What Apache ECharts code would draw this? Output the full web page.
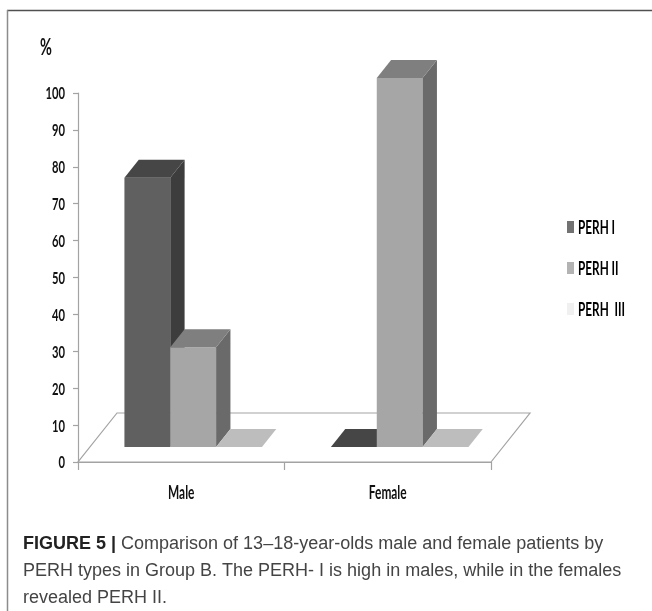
<!DOCTYPE html>
<html>
<head>
<meta charset="utf-8">
<script src="https://cdn.jsdelivr.net/npm/echarts@6/dist/echarts.min.js"></script>
<style>
  html, body { margin: 0; padding: 0; background: #fff; }
  #chart { width: 652px; height: 611px; }
</style>
</head>
<body>
<div id="chart"></div>
<script>
// Group B, ages 13–18: share of each PERH type (%) by sex
const categories = ['Male', 'Female'];
const perhI = [73, 0];
const perhII = [27, 100];
const perhIII = [0, 0];
const seriesNames = ['PERH I', 'PERH II', 'PERH  III'];
const yTickLabels = ['0', '10', '20', '30', '40', '50', '60', '70', '80', '90', '100'];

const captionLines = [
  '{b|FIGURE 5 |} Comparison of 13\u201318-year-olds male and female patients by',
  'PERH types in Group B. The PERH- I is high in males, while in the females',
  'revealed PERH II.'
];

// face colours: front, side, top, legend key
const palettes = [
  { front: '#606060', side: '#3d3d3d', top: '#464646', key: '#727272' },
  { front: '#a6a6a6', side: '#6a6a6a', top: '#7f7f7f', key: '#b3b3b3' },
  { front: '#f2f2f2', side: '#d0d0d0', top: '#bdbdbd', key: '#f0f0f0' }
];

// floor perspective
const FLOOR_DY = 49;           // floor depth, vertical
const SLANT = 39 / 49;         // horizontal shift per vertical unit of depth
const BAR_INSET = 15;          // bar front sits this far behind the floor front edge
const BAR_DY = 18;             // bar depth, vertical
const BAR_FRAC = 0.222;        // bar width as a share of the category band

const LABEL_FONT = 'Lato, "Open Sans", sans-serif';
const SQUEEZE = 0.66;          // narrow-face look for chart labels

function floorItem(params, api) {
  const cs = params.coordSys;
  const fx0 = cs.x, fx1 = cs.x + cs.width, fy = cs.y + cs.height;
  const dx = FLOOR_DY * SLANT;
  return {
    type: 'polygon',
    shape: { points: [[fx0, fy], [fx1, fy], [fx1 + dx, fy - FLOOR_DY], [fx0 + dx, fy - FLOOR_DY]] },
    style: { fill: '#ffffff', stroke: '#a3a3a3', lineWidth: 1.2 }
  };
}

function barItem(slot, pal) {
  return function (params, api) {
    const c = api.value(0), v = api.value(1);
    const base = api.coord([c, 0]);
    const top = api.coord([c, v]);
    const band = api.size([1, 0])[0];
    const bw = band * BAR_FRAC;
    const cx = base[0] + BAR_INSET * SLANT;
    const x0 = cx + (slot - 1.5) * bw;
    const x1 = x0 + bw;
    const yb = base[1] - BAR_INSET;
    const yt = top[1] - BAR_INSET;
    const dx = BAR_DY * SLANT, dy = BAR_DY;
    const children = [];
    if (v > 0) {
      children.push({ type: 'rect', shape: { x: x0, y: yt, width: bw, height: yb - yt }, style: { fill: pal.front } });
      children.push({ type: 'polygon', shape: { points: [[x1, yt], [x1 + dx, yt - dy], [x1 + dx, yb - dy], [x1, yb]] }, style: { fill: pal.side } });
    }
    children.push({ type: 'polygon', shape: { points: [[x0, yt], [x0 + dx, yt - dy], [x1 + dx, yt - dy], [x1, yt]] }, style: { fill: pal.top } });
    return { type: 'group', children: children };
  };
}

const barData = [perhI, perhII, perhIII].map(arr => arr.map((v, i) => [i, v]));

const chart = echarts.init(document.getElementById('chart'), null, { renderer: 'canvas' });

const legendGraphics = [];
const legendY = [227, 268, 309];
seriesNames.forEach((name, i) => {
  legendGraphics.push({
    type: 'rect', shape: { x: 567, y: legendY[i] - 6, width: 7, height: 12 },
    style: { fill: palettes[i].key }
  });
  legendGraphics.push({
    type: 'text', x: 578, y: legendY[i] + 1, scaleX: 0.62,
    style: { text: name, fontFamily: LABEL_FONT, fontWeight: 'bold', fontSize: 19, fill: '#000', align: 'left', verticalAlign: 'middle' }
  });
});

const captionGraphics = captionLines.map((line, i) => ({
  type: 'text', x: 23, y: 544 + i * 27,
  style: {
    text: line, fontFamily: '"Liberation Sans", Arial, sans-serif', fontSize: 18, fill: '#444',
    align: 'left', verticalAlign: 'middle',
    rich: { b: { fontFamily: '"Liberation Sans", Arial, sans-serif', fontSize: 18, fontWeight: 'bold', fill: '#222' } }
  }
}));

chart.setOption({
  animation: false,
  backgroundColor: '#ffffff',
  grid: { left: 78, right: 161, top: 93, bottom: 149 },
  xAxis: {
    type: 'category',
    data: categories,
    axisLine: { show: true, lineStyle: { color: '#a3a3a3', width: 1.2 } },
    axisTick: { show: true, length: 8, interval: 0, lineStyle: { color: '#a3a3a3', width: 1.2 } },
    axisLabel: { show: false },
    splitLine: { show: false }
  },
  yAxis: {
    type: 'value',
    min: 0, max: 100, interval: 10,
    axisLine: { show: true, lineStyle: { color: '#a3a3a3', width: 1.2 } },
    axisTick: { show: true, length: 5, lineStyle: { color: '#a3a3a3', width: 1.2 } },
    axisLabel: { show: false },
    splitLine: { show: false }
  },
  series: [
    { type: 'custom', name: 'floor', data: [[0, 0]], renderItem: floorItem, silent: true, z: 1 },
    ...seriesNames.map((name, i) => ({
      type: 'custom', name: name, data: barData[i], renderItem: barItem(i, palettes[i]), z: 2
    })),
    {
      type: 'custom', name: 'yLabels', silent: true, z: 3,
      data: yTickLabels.map(t => [0, Number(t)]),
      renderItem: function (params, api) {
        const p = api.coord([0, api.value(1)]);
        return {
          type: 'text', x: params.coordSys.x - 13, y: p[1] + 1, scaleX: SQUEEZE,
          style: { text: yTickLabels[params.dataIndex], fontFamily: LABEL_FONT, fontWeight: 'bold', fontSize: 17, fill: '#111', align: 'right', verticalAlign: 'middle' }
        };
      }
    },
    {
      type: 'custom', name: 'xLabels', silent: true, z: 3,
      data: categories.map((c, i) => [i, 0]),
      renderItem: function (params, api) {
        const p = api.coord([api.value(0), 0]);
        return {
          type: 'text', x: p[0], y: p[1] + 31, scaleX: SQUEEZE,
          style: { text: categories[params.dataIndex], fontFamily: LABEL_FONT, fontWeight: 'bold', fontSize: 18, fill: '#111', align: 'center', verticalAlign: 'middle' }
        };
      }
    }
  ],
  graphic: [
    { type: 'line', shape: { x1: 7, y1: 10.5, x2: 652, y2: 10.5 }, style: { stroke: '#505050', lineWidth: 1.5 } },
    { type: 'line', shape: { x1: 7.5, y1: 10, x2: 7.5, y2: 611 }, style: { stroke: '#8c8c8c', lineWidth: 1.5 } },
    {
      type: 'text', x: 46, y: 48, scaleX: SQUEEZE,
      style: { text: '%', fontFamily: LABEL_FONT, fontWeight: 'bold', fontSize: 22, fill: '#111', align: 'center', verticalAlign: 'middle' }
    },
    ...legendGraphics,
    ...captionGraphics
  ]
});
</script>
</body>
</html>
